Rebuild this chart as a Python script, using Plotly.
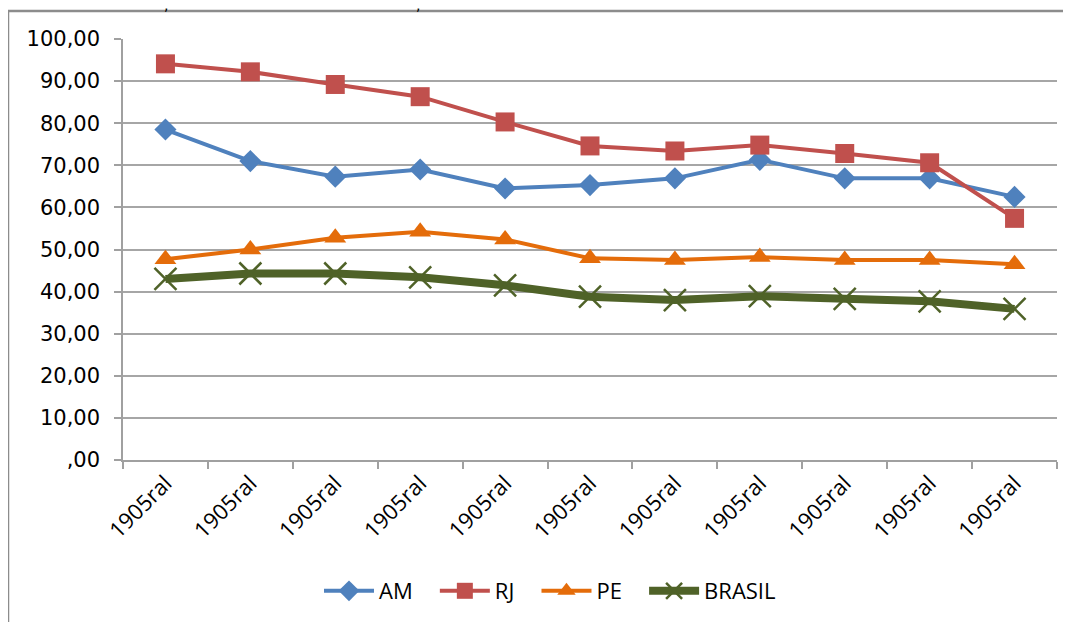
import plotly.graph_objects as go

categories = ["1905ral"] * 11
am = [78.5, 71.0, 67.3, 69.0, 64.5, 65.3, 66.9, 71.3, 66.9, 66.9, 62.5]
rj = [94.1, 92.2, 89.2, 86.3, 80.3, 74.6, 73.4, 74.8, 72.8, 70.6, 57.4]
pe = [47.7, 50.0, 52.8, 54.2, 52.4, 47.9, 47.5, 48.2, 47.5, 47.5, 46.5]
brasil = [43.0, 44.3, 44.3, 43.4, 41.5, 38.8, 38.0, 38.9, 38.3, 37.7, 35.9]
y_ticks = [0, 10, 20, 30, 40, 50, 60, 70, 80, 90, 100]
y_labels = [",00", "10,00", "20,00", "30,00", "40,00", "50,00", "60,00",
            "70,00", "80,00", "90,00", "100,00"]

xs = list(range(len(categories)))
pad = "\u00a0\u00a0\u00a0"

fig = go.Figure()
fig.add_trace(go.Scatter(x=xs, y=am, name="AM" + pad, mode="lines+markers",
                         line=dict(color="#4F81BD", width=4),
                         marker=dict(symbol="diamond", size=17, color="#4F81BD")))
fig.add_trace(go.Scatter(x=xs, y=rj, name="RJ" + pad, mode="lines+markers",
                         line=dict(color="#C0504D", width=4),
                         marker=dict(symbol="square", size=19, color="#C0504D")))
fig.add_trace(go.Scatter(x=xs, y=pe, name="PE" + pad, mode="lines+markers",
                         line=dict(color="#E46C0A", width=4),
                         marker=dict(symbol="triangle-up", size=19, color="#E46C0A")))
fig.add_trace(go.Scatter(x=xs, y=brasil, name="BRASIL", mode="lines+markers",
                         line=dict(color="#4F6228", width=8),
                         marker=dict(symbol="x-thin-open", size=22, color="#4F6228",
                                     line=dict(color="#4F6228", width=2.5))))

# page body has an 8px margin: work in window pixels, convert to figure pixels
OFF = 8
W, H = 1071, 622
L = 123 - OFF
T = 39 - OFF
R = W - (1057 - OFF)
B = H - (460 - OFF)
pw = W - L - R
ph = H - T - B

def px(x):
    return (x - OFF - L) / pw

def py(y):
    return (H - B - (y - OFF)) / ph

fig.update_layout(
    width=W, height=H,
    margin=dict(l=L, r=R, t=T, b=B, autoexpand=False),
    paper_bgcolor="white", plot_bgcolor="white",
    showlegend=True,
    legend=dict(orientation="h", x=px(550), xanchor="center", y=py(591), yanchor="middle",
                font=dict(family="Open Sans", size=22, color="#000000"),
                itemwidth=50, tracegroupgap=0),
    xaxis=dict(range=[-0.5, 10.5], tickmode="array", tickvals=xs, ticktext=categories,
               tickangle=-45, ticks="", showgrid=False, zeroline=False,
               showline=True, linecolor="#a0a0a0", linewidth=1.5,
               tickfont=dict(family="Open Sans", size=22, color="#000000"),
               minor=dict(tickmode="linear", tick0=-0.5, dtick=1, ticks="outside",
                          ticklen=7, tickcolor="#a0a0a0", tickwidth=1.5, showgrid=False)),
    yaxis=dict(range=[0, 100], tickmode="array", tickvals=y_ticks, ticktext=y_labels,
               ticks="outside", ticklen=7, tickcolor="#a0a0a0", tickwidth=1.5,
               ticklabelstandoff=10,
               showgrid=True, gridcolor="#a6a6a6", gridwidth=1.5, zeroline=False,
               showline=True, linecolor="#a0a0a0", linewidth=1.5,
               tickfont=dict(family="DejaVu Sans", size=21, color="#000000")),
    shapes=[
        dict(type="line", xref="paper", yref="paper", x0=px(8), x1=px(1090),
             y0=py(11), y1=py(11), line=dict(color="#8c8c8c", width=2.5)),
        dict(type="line", xref="paper", yref="paper", x0=px(8), x1=px(8),
             y0=py(11), y1=py(650), line=dict(color="#8c8c8c", width=2.5)),
    ],
    annotations=[
        dict(text=",", xref="paper", yref="paper", x=px(163), y=py(-4), yanchor="top",
             showarrow=False, borderpad=0,
             font=dict(family="DejaVu Sans", size=14, color="#000")),
        dict(text=",", xref="paper", yref="paper", x=px(415), y=py(-4), yanchor="top",
             showarrow=False, borderpad=0,
             font=dict(family="DejaVu Sans", size=14, color="#000")),
    ],
)

fig.write_html("out.html")
